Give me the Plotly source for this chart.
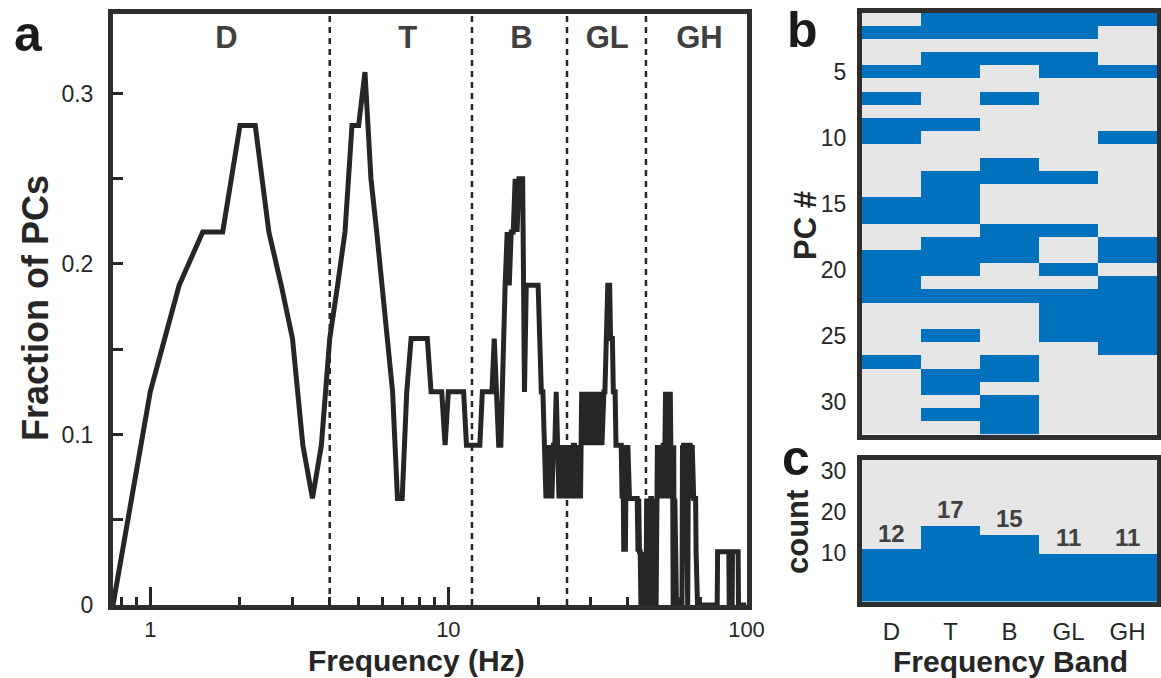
import numpy as np
import plotly.graph_objects as go

# ---------------- data ----------------
band_names = ["D", "T", "B", "GL", "GH"]
band_edges_hz = [4, 12, 25, 46]
band_label_hz = [1.8, 7.3, 17.6, 34.1, 69.5]

freq_start_hz = 0.75
freq_step_hz = 0.25
n_pcs = 32

# number of PCs (out of 32) per frequency bin
delta_counts = [0, 4, 6, 7, 7, 9, 9, 7, 6, 5, 3, 2, 3]
theta_counts = [5, 6, 7, 9, 9, 10, 8, 7, 6, 5, 4, 2, 2, 4, 5, 5,
                5, 5, 5, 4, 4, 4, 4, 3, 4, 4, 4, 4, 4, 4, 3, 3]
beta_counts = [3, 3, 3, 3, 4, 4, 4, 4, 4, 5, 4, 3, 3, 5, 6, 7,
               6, 7, 7, 8, 7, 8, 8, 8, 4, 6, 6, 6, 6, 6, 6, 6,
               6, 5, 4, 4, 3, 2, 3, 2, 3, 2, 3, 3, 4, 3, 2, 3,
               2, 3, 2, 3]
gamma_low_counts = [2, 3, 2, 3, 2, 3, 3, 2, 3, 2, 3, 2,
                    4, 3, 4, 4, 3, 4, 3, 4, 4, 3, 4, 3,
                    4, 4, 3, 4, 3, 4, 4, 3, 4, 4, 4, 5,
                    5, 6, 6, 6, 5, 5, 5, 4, 4, 4, 3, 3,
                    3, 3, 3, 3, 3, 2, 3, 1, 2, 1, 3, 2,
                    3, 2, 2, 2, 2, 2, 2, 2, 2, 2, 2, 2,
                    2, 1, 2, 1, 1, 0, 1, 0, 1, 0, 1, 0]
gamma_high_counts = [0, 2, 1, 2, 0, 2, 1, 2, 2, 1, 2, 0,
                     1, 0, 1, 0, 2, 3, 2, 3, 2, 3, 3, 2,
                     3, 2, 3, 3, 2, 3, 4, 3, 4, 3, 2, 3,
                     3, 2, 4, 3, 2, 3, 3, 0, 3, 0, 2, 0,
                     1, 0, 0, 0, 0, 0, 0, 0, 0, 0, 0, 0,
                     3, 2, 3, 3, 2, 3, 3, 2, 3, 2, 0, 2,
                     3, 2, 3, 3, 2, 3, 2, 3, 2, 3, 2, 2,
                     2, 2, 2, 1,
                     0, 0, 0, 0, 0, 0, 0, 0, 0, 0, 0, 0,
                     0, 0, 0, 0, 0, 0, 0, 0, 0, 0, 0, 0,
                     0, 0, 0, 0, 0, 0, 0, 0, 0, 0, 0, 0,
                     0, 0, 0, 0, 0, 0, 0, 0, 0, 0, 0, 0,
                     1, 1, 1, 1, 1, 1, 1, 1, 1, 1, 1, 1, 1, 1, 1,
                     1, 1, 1, 1, 1, 1, 1, 1, 1, 1, 1, 1, 1, 1, 1,
                     0, 0, 0, 0, 0, 0, 0, 0, 0,
                     1, 1, 1, 1, 1, 1, 1, 1, 1, 1, 1, 1, 1, 1, 1, 1, 1,
                     0, 0, 0, 0, 0, 0, 0, 0, 0, 0, 0, 0, 0,
                     0, 0, 0, 0, 0, 0, 0, 0, 0, 0, 0, 0]

# PC x band membership (rows = PC 1..32, cols = D T B GL GH)
pc_band_membership = [
    [0, 1, 1, 1, 1], [1, 1, 1, 1, 0], [0, 0, 0, 0, 0], [0, 1, 1, 1, 0],
    [1, 1, 0, 1, 1], [0, 0, 0, 0, 0], [1, 0, 1, 0, 0], [0, 0, 0, 0, 0],
    [1, 1, 0, 0, 0], [1, 0, 0, 0, 1], [0, 0, 0, 0, 0], [0, 0, 1, 0, 0],
    [0, 1, 1, 1, 0], [0, 1, 0, 0, 0], [1, 1, 0, 0, 0], [1, 1, 0, 0, 0],
    [0, 0, 1, 1, 0], [0, 1, 1, 0, 1], [1, 1, 1, 0, 1], [1, 1, 0, 1, 0],
    [1, 0, 0, 0, 1], [1, 1, 1, 1, 1], [0, 0, 0, 1, 1], [0, 0, 0, 1, 1],
    [0, 1, 0, 1, 1], [0, 0, 0, 0, 1], [1, 0, 1, 0, 0], [0, 1, 1, 0, 0],
    [0, 1, 0, 0, 0], [0, 0, 1, 0, 0], [0, 1, 1, 0, 0], [0, 0, 1, 0, 0],
]
pc_numbers = list(range(1, 33))

band_counts = [12, 17, 15, 11, 11]
bar_tops_read = [11.1, 16.8, 14.6, 10.0, 10.0]

# ---------------- styling ----------------
W, H = 1161, 678
C_AX = "#262626"
C_BOX = "#2e2e2e"
C_BLUE = "#0072BD"
C_GRAY = "#E6E6E6"
C_LBL = "#404040"
FONT = "Liberation Sans, Arial, Helvetica, sans-serif"


def px_x(p):
    return p / W


def px_y(p):
    return 1 - p / H


all_counts = np.array(delta_counts + theta_counts + beta_counts
                      + gamma_low_counts + gamma_high_counts, dtype=float)
freq = freq_start_hz + freq_step_hz * np.arange(len(all_counts))
frac = all_counts / n_pcs

YMAX_A = 0.3466
fig = go.Figure()

# panel a: band boundaries
for b in band_edges_hz:
    fig.add_trace(go.Scatter(x=[b, b], y=[0, YMAX_A], mode="lines",
                             line=dict(color=C_AX, width=2.5, dash="6px,5px"),
                             hoverinfo="skip", showlegend=False,
                             xaxis="x", yaxis="y"))
# panel a: curve
fig.add_trace(go.Scatter(x=freq, y=frac, mode="lines",
                         line=dict(color=C_AX, width=5),
                         showlegend=False, xaxis="x", yaxis="y"))
# panel a: band labels
fig.add_trace(go.Scatter(x=band_label_hz, y=[0.331] * 5, mode="text",
                         text=band_names,
                         textfont=dict(family=FONT, size=31, color=C_LBL,
                                       weight="bold"),
                         showlegend=False, hoverinfo="skip",
                         xaxis="x", yaxis="y"))

# panel b: heatmap
fig.add_trace(go.Heatmap(z=pc_band_membership, x=list(range(5)), y=pc_numbers,
                         colorscale=[[0, C_GRAY], [1, C_BLUE]], zmin=0, zmax=1,
                         showscale=False, xaxis="x2", yaxis="y2",
                         hoverinfo="skip"))

# panel c: bars
YMIN_C = -1.7
fig.add_trace(go.Bar(x=list(range(5)), y=[t - YMIN_C for t in bar_tops_read],
                     base=YMIN_C, width=1.0,
                     marker=dict(color=C_BLUE, line=dict(width=0)),
                     showlegend=False, xaxis="x3", yaxis="y3",
                     hoverinfo="skip"))

tickfont = dict(family=FONT, size=23, color=C_AX)

minor_x = [0.8, 0.9] + list(range(2, 10)) + list(range(20, 100, 10))

fig.update_layout(
    width=W, height=H, margin=dict(l=0, r=0, t=0, b=0, autoexpand=False),
    paper_bgcolor="white", plot_bgcolor="white",
    font=dict(family=FONT, color=C_AX),
    bargap=0,
    xaxis=dict(type="log", range=[np.log10(0.75), 2.0], automargin=False,
               domain=[px_x(113), px_x(746.5)], anchor="y",
               showline=True, linewidth=5, linecolor=C_BOX, mirror=True,
               ticks="inside", ticklen=18, tickwidth=2.5, tickcolor=C_AX,
               tickvals=[1, 10, 100], ticktext=["1", "10", "100"],
               minor=dict(ticks="inside", ticklen=8, tickwidth=2.5,
                          tickcolor=C_AX, tickvals=minor_x),
               showgrid=False, zeroline=False,
               tickfont=dict(family=FONT, size=22, color=C_AX),
               ticklabelstandoff=1),
    yaxis=dict(range=[0, YMAX_A], domain=[px_y(605), px_y(14)], anchor="x",
               automargin=False,
               showline=True, linewidth=5, linecolor=C_BOX, mirror=True,
               ticks="inside", ticklen=10, tickwidth=2.5, tickcolor=C_AX,
               tickvals=[0, 0.1, 0.2, 0.3], ticktext=["0", "0.1", "0.2", "0.3"],
               minor=dict(ticks="inside", ticklen=10, tickwidth=2.5,
                          tickcolor=C_AX, tickvals=[0.05, 0.15, 0.25]),
               showgrid=False, zeroline=False, tickfont=tickfont,
               ticklabelstandoff=10),
    xaxis2=dict(range=[-0.5, 4.5], domain=[px_x(862), px_x(1157)], anchor="y2",
                automargin=False,
                showline=True, linewidth=5, linecolor=C_BOX, mirror=True,
                showticklabels=False, ticks="", showgrid=False, zeroline=False),
    yaxis2=dict(range=[32.5, 0.5], domain=[px_y(434.5), px_y(12.5)], anchor="x2",
                automargin=False,
                showline=True, linewidth=5, linecolor=C_BOX, mirror=True,
                tickvals=[5, 10, 15, 20, 25, 30], ticks="", showgrid=False,
                zeroline=False, tickfont=tickfont, ticklabelstandoff=6),
    xaxis3=dict(range=[-0.5, 4.5], domain=[px_x(862), px_x(1157)], anchor="y3",
                automargin=False,
                showline=True, linewidth=5, linecolor=C_BOX, mirror=True,
                tickvals=list(range(5)), ticktext=band_names,
                ticks="", showgrid=False, zeroline=False,
                tickfont=dict(family=FONT, size=24, color=C_AX),
                ticklabelstandoff=5),
    yaxis3=dict(range=[YMIN_C, 32.8], domain=[px_y(601.5), px_y(459.5)],
                anchor="x3", automargin=False,
                showline=True, linewidth=5, linecolor=C_BOX, mirror=True,
                tickvals=[10, 20, 30], ticks="", showgrid=False, zeroline=False,
                tickfont=tickfont, ticklabelstandoff=6),
)

# panel c background
fig.add_shape(type="rect", xref="x3 domain", yref="y3 domain",
              x0=0, x1=1, y0=0, y1=1, fillcolor=C_GRAY, line=dict(width=0),
              layer="below")

# count labels on bars
for i, (c, t) in enumerate(zip(band_counts, bar_tops_read)):
    fig.add_annotation(x=i, y=t, xref="x3", yref="y3", text=str(c),
                       showarrow=False, yanchor="bottom", yshift=0,
                       font=dict(family=FONT, size=24, color=C_LBL,
                                 weight="bold"))


def txt(text, x, y, size, angle=0, color=C_AX):
    fig.add_annotation(x=px_x(x), y=px_y(y), xref="paper", yref="paper",
                       text=text, showarrow=False, textangle=angle,
                       xanchor="center", yanchor="middle",
                       font=dict(family=FONT, size=size, color=color,
                                 weight="bold"))


txt("Frequency (Hz)", 416, 660, 30)
txt("Fraction of PCs", 35, 308, 36, angle=-90)
txt("PC #", 806, 226, 31, angle=-90)
txt("count", 797, 532, 31, angle=-90)
txt("Frequency Band", 1010, 661, 30)
txt("a", 28, 34, 50, color="#1a1a1a")
txt("b", 802, 30, 50, color="#1a1a1a")
txt("c", 796, 458, 50, color="#1a1a1a")

fig.write_html(
    "out.html",
    config={"displayModeBar": False},
    post_script="document.body.style.margin='0px';"
                "document.body.style.overflow='hidden';",
)
